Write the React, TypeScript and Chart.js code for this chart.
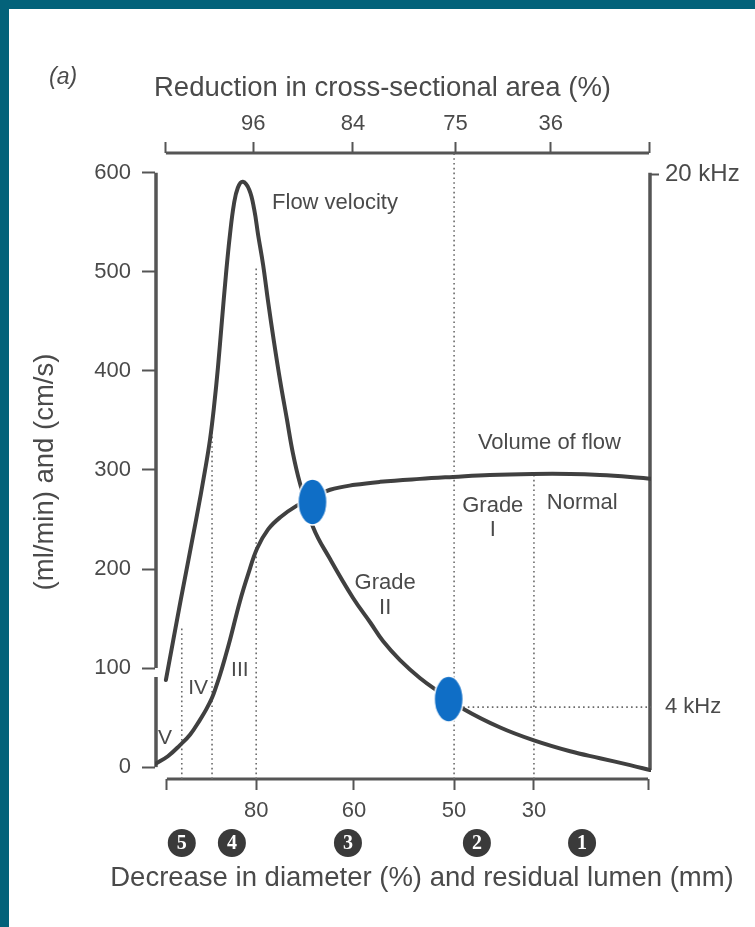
import React, { useEffect, useRef } from 'react';
import { Chart, registerables } from 'chart.js';

Chart.register(...registerables);

// ---------- data (x: position along the stenosis axis, 0 = left frame, 100 = right frame) ----------
const velocityPoints: [number, number][] = [
  [2.2, 88], [5.2, 169], [8.3, 250], [10.1, 300], [11.1, 331], [11.9, 364], [12.7, 404],
  [13.5, 451], [14.3, 497], [15.1, 537], [15.9, 568], [16.7, 585], [17.7, 591], [19.0, 583],
  [20.0, 563], [20.8, 537], [21.8, 507], [22.8, 470], [24.0, 429], [25.2, 391], [26.6, 351],
  [27.8, 317], [29.2, 287], [31.9, 242], [35.3, 210], [39.9, 171], [43.4, 146], [46.0, 127],
  [49.4, 108], [53.4, 90], [57.5, 75], [62.1, 59], [69.6, 40], [76.4, 27], [83.7, 16],
  [89.7, 9], [95.8, 2], [99.8, -3],
];
const volumePoints: [number, number][] = [
  [0, 3], [2.6, 11], [5.0, 22], [7.1, 33], [9.1, 48], [10.3, 58], [11.5, 70], [12.3, 81],
  [13.1, 93], [14.1, 110], [15.1, 128], [17.1, 167], [18.8, 195], [20.6, 221], [22.8, 240],
  [25.2, 252], [28.6, 264], [31.9, 272], [35.3, 280], [40.3, 285], [45.4, 288], [53.4, 291],
  [60.1, 293], [67.5, 295], [76.2, 296], [83.7, 296], [89.7, 295], [95.8, 293], [100, 291],
];
const diameterTickPos = [2.4, 20.4, 40.1, 60.3, 76.4, 99.4];
const diameterTickLabels = ['', '80', '60', '50', '30', ''];
const areaTickPos = [2.2, 19.8, 39.9, 60.6, 79.8, 99.6];
const areaTickLabels = ['', '96', '84', '75', '36', ''];
const valueTicks = [0, 100, 200, 300, 400, 500, 600];
const freqTickValues = [598, 60.6];
const freqTickLabels = ['20 kHz', '4 kHz'];
const lumenGradePos = [5.4, 15.5, 38.9, 64.9, 86.1];
const lumenGradeLabels = ['5', '4', '3', '2', '1'];
const boundaryX = [5.4, 11.5, 20.4, 60.3, 76.4];
const boundaryTop = [143, 340, 505, 620, 294];
const markerX = [31.75, 59.2];
const markerY = [267.7, 68.7];

const FONT = '"Liberation Sans", Arial, Helvetica, sans-serif';
const INK = '#4a4a4a';
const LINE = '#404040';
const AXIS = '#555555';

export default function App() {
  const ref = useRef<HTMLCanvasElement>(null);

  useEffect(() => {
    const canvas = ref.current;
    if (!canvas) return;

    const dot = document.createElement('canvas');
    dot.width = 32;
    dot.height = 50;
    const dc = dot.getContext('2d')!;
    dc.beginPath();
    dc.ellipse(16, 25, 14.5, 23, 0, 0, Math.PI * 2);
    dc.fillStyle = '#0f6ec6';
    dc.fill();
    dc.lineWidth = 1.5;
    dc.strokeStyle = '#ffffff';
    dc.stroke();

    const dotted = {
      borderColor: '#6a6a6a',
      borderWidth: 1.6,
      borderDash: [1.6, 3.2],
      pointRadius: 0,
      fill: false,
      tension: 0,
      order: 3,
    };

    const curve = {
      borderColor: LINE,
      borderWidth: 4,
      pointRadius: 0,
      fill: false,
      tension: 0.4,
      borderCapStyle: 'round',
      borderJoinStyle: 'round',
      order: 2,
    };

    const datasets: any[] = [
      ...boundaryX.map((bx, i) => ({
        ...dotted,
        label: 'boundary ' + i,
        data: [{ x: bx, y: -12 }, { x: bx, y: boundaryTop[i] }],
      })),
      {
        ...dotted,
        label: '4 kHz',
        data: [{ x: markerX[1], y: freqTickValues[1] }, { x: 100, y: freqTickValues[1] }],
      },
      { ...curve, label: 'Flow velocity', data: velocityPoints.map(([x, y]) => ({ x, y })) },
      { ...curve, label: 'Volume of flow', data: volumePoints.map(([x, y]) => ({ x, y })) },
      {
        label: 'markers',
        data: markerX.map((x, i) => ({ x, y: markerY[i] })),
        showLine: false,
        pointStyle: dot,
        pointRadius: 16,
        order: 0,
      },
    ];

    const axisLines = {
      id: 'axisLines',
      beforeDatasetsDraw(chart: any) {
        const { ctx, chartArea: a, scales } = chart;
        const x = scales.x;
        const y = scales.y;
        const seg = (x1: number, y1: number, x2: number, y2: number) => {
          ctx.beginPath();
          ctx.moveTo(x1, y1);
          ctx.lineTo(x2, y2);
          ctx.stroke();
        };
        ctx.save();
        ctx.strokeStyle = AXIS;
        ctx.lineWidth = 3.5;
        seg(a.left + 1, y.getPixelForValue(600), a.left + 1, y.getPixelForValue(100));
        seg(a.left + 1, y.getPixelForValue(91), a.left + 1, y.getPixelForValue(0));
        seg(a.right - 1, y.getPixelForValue(600), a.right - 1, y.getPixelForValue(-3));
        ctx.lineWidth = 3;
        seg(x.getPixelForValue(diameterTickPos[0]), a.bottom, x.getPixelForValue(diameterTickPos[diameterTickPos.length - 1]), a.bottom);
        seg(x.getPixelForValue(areaTickPos[0]), a.top, x.getPixelForValue(areaTickPos[areaTickPos.length - 1]), a.top);
        ctx.restore();
      },
    };

    const notes: { t: string; x: number; y: number; align?: CanvasTextAlign; size?: number }[] = [
      { t: 'Flow velocity', x: 23.6, y: 570, align: 'left' },
      { t: 'Volume of flow', x: 65.1, y: 327, align: 'left' },
      { t: 'Grade', x: 68.1, y: 264 },
      { t: 'I', x: 68.1, y: 239 },
      { t: 'Normal', x: 79.0, y: 267, align: 'left' },
      { t: 'Grade', x: 46.4, y: 186 },
      { t: 'II', x: 46.4, y: 161 },
      { t: 'III', x: 17.1, y: 98, size: 21 },
      { t: 'IV', x: 8.7, y: 80, size: 21 },
      { t: 'V', x: 2.0, y: 29, size: 21 },
    ];

    const texts = {
      id: 'texts',
      afterDraw(chart: any) {
        const { ctx, scales } = chart;
        const x = scales.x;
        const y = scales.y;
        ctx.save();
        ctx.fillStyle = INK;
        ctx.textBaseline = 'middle';
        for (const n of notes) {
          ctx.font = `${n.size || 22}px ${FONT}`;
          ctx.textAlign = n.align || 'center';
          ctx.fillText(n.t, x.getPixelForValue(n.x), y.getPixelForValue(n.y));
        }
        // titles
        ctx.font = `italic 23px ${FONT}`;
        ctx.textAlign = 'left';
        ctx.fillText('(a)', 49, 78);
        ctx.font = `27.5px ${FONT}`;
        ctx.fillText('Reduction in cross-sectional area (%)', 154, 88);
        ctx.textAlign = 'center';
        ctx.fillText('Decrease in diameter (%) and residual lumen (mm)', 422, 878);
        ctx.save();
        ctx.translate(45, 472);
        ctx.rotate(-Math.PI / 2);
        ctx.fillText('(ml/min) and (cm/s)', 0, 0);
        ctx.restore();
        // residual lumen grades
        const cy = 843;
        lumenGradePos.forEach((p, i) => {
          const cx = x.getPixelForValue(p);
          ctx.beginPath();
          ctx.arc(cx, cy, 14, 0, Math.PI * 2);
          ctx.fillStyle = '#3a3a3a';
          ctx.fill();
          ctx.fillStyle = '#ffffff';
          ctx.font = `bold 20px "Liberation Serif", "DejaVu Serif", serif`;
          ctx.textAlign = 'center';
          ctx.textBaseline = 'middle';
          ctx.fillText(lumenGradeLabels[i], cx, cy + 1);
        });
        ctx.restore();
      },
    };

    const tickFont = { family: FONT, size: 22 };
    const grid = (tl: number) => ({
      display: true,
      drawOnChartArea: false,
      drawTicks: true,
      tickLength: tl,
      tickWidth: 2,
      tickColor: AXIS,
      color: AXIS,
    });

    const chart = new Chart(canvas, {
      type: 'line',
      data: { datasets },
      plugins: [axisLines, texts],
      options: {
        animation: false,
        responsive: false,
        devicePixelRatio: 1,
        events: [],
        layout: { padding: 0 },
        plugins: { legend: { display: false }, tooltip: { enabled: false } },
        scales: {
          x: {
            type: 'linear',
            position: 'bottom',
            min: 0,
            max: 100,
            afterFit: (s: any) => { s.height = 148; },
            afterBuildTicks: (s: any) => { s.ticks = diameterTickPos.map((v) => ({ value: v })); },
            ticks: {
              autoSkip: false,
              maxRotation: 0,
              padding: 8,
              color: INK,
              font: tickFont,
              callback: (_v: any, i: number) => diameterTickLabels[i],
            },
            grid: grid(11),
            border: { display: false },
          },
          x2: {
            type: 'linear',
            position: 'top',
            min: 0,
            max: 100,
            afterFit: (s: any) => { s.height = 153; },
            afterBuildTicks: (s: any) => { s.ticks = areaTickPos.map((v) => ({ value: v })); },
            ticks: {
              autoSkip: false,
              maxRotation: 0,
              padding: 5,
              color: INK,
              font: tickFont,
              callback: (_v: any, i: number) => areaTickLabels[i],
            },
            grid: grid(11),
            border: { display: false },
          },
          y: {
            type: 'linear',
            position: 'left',
            min: -12,
            max: 620,
            afterFit: (s: any) => { s.width = 155; },
            afterBuildTicks: (s: any) => { s.ticks = valueTicks.map((v) => ({ value: v })); },
            ticks: {
              padding: 11,
              color: INK,
              font: tickFont,
              callback: (v: any) => String(v),
            },
            grid: grid(13),
            border: { display: false },
          },
          y2: {
            type: 'linear',
            position: 'right',
            min: -12,
            max: 620,
            afterFit: (s: any) => { s.width = 104; },
            afterBuildTicks: (s: any) => { s.ticks = freqTickValues.map((v) => ({ value: v })); },
            ticks: {
              padding: 6,
              color: INK,
              font: (c: any) => ({ family: FONT, size: c.index === 0 ? 24 : 22 }),
              callback: (_v: any, i: number) => freqTickLabels[i],
            },
            grid: {
              ...grid(8),
              tickColor: (c: any) => (c.index === 0 ? AXIS : 'rgba(0,0,0,0)'),
            },
            border: { display: false },
          },
        },
      } as any,
    });

    return () => chart.destroy();
  }, []);

  return (
    <div style={{ position: 'absolute', left: 0, top: 0, width: 755, height: 927, background: '#03627a', overflow: 'hidden' }}>
      <div style={{ position: 'absolute', left: 9, top: 9, right: 0, bottom: 0, background: '#ffffff' }} />
      <canvas
        ref={ref}
        width={755}
        height={927}
        style={{ position: 'absolute', left: 0, top: 0, width: 755, height: 927 }}
      />
    </div>
  );
}
